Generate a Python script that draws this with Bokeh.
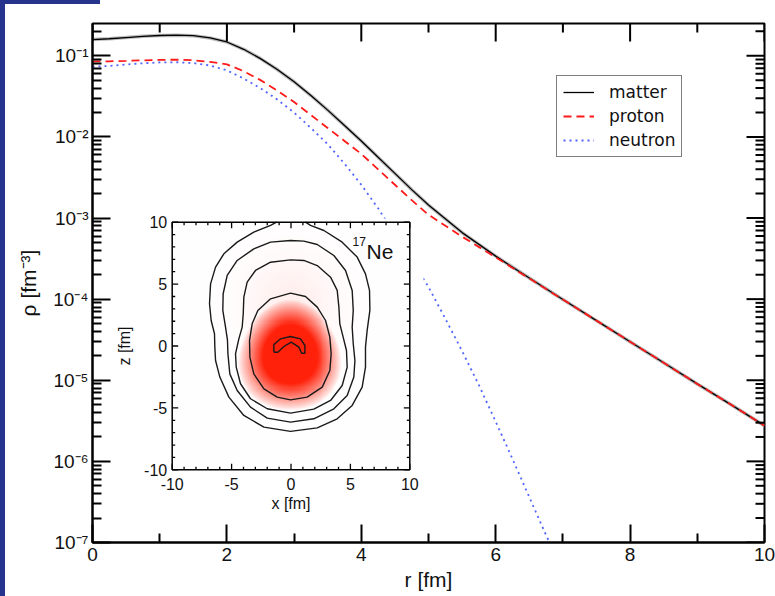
import numpy as np
from bokeh.plotting import figure
from bokeh.models import Legend, LegendItem, FixedTicker, Range1d, LinearScale
from bokeh.core.properties import value
from bokeh.embed import file_html
from bokeh.resources import INLINE

# ---------------- data ----------------
r_fine = [0.0, 0.25, 0.5, 0.75, 1.0, 1.25, 1.5, 1.75, 2.0, 2.25, 2.5, 2.75,
          3.0, 3.25, 3.5, 3.75, 4.0, 4.25, 4.5, 4.75, 5.0,
          5.5, 6.0, 6.5, 7.0, 7.5, 8.0, 8.5, 9.0, 9.5, 10.0]
log_rho_matter = [-0.800, -0.790, -0.775, -0.760, -0.750, -0.746, -0.752,
                  -0.780, -0.830, -0.920, -1.035, -1.170, -1.320, -1.490,
                  -1.670, -1.860, -2.050, -2.250, -2.450, -2.650, -2.840,
                  -3.180, -3.470, -3.740, -4.005, -4.265, -4.525, -4.785,
                  -5.045, -5.300, -5.560]
log_rho_proton = [-1.070, -1.068, -1.063, -1.056, -1.050, -1.048, -1.055,
                  -1.075, -1.105, -1.190, -1.300, -1.430, -1.570, -1.730,
                  -1.890, -2.050, -2.210, -2.400, -2.590, -2.780, -2.960,
                  -3.230, -3.485, -3.745, -4.005, -4.265, -4.525, -4.785,
                  -5.045, -5.300, -5.560]
r_neutron = [0.0, 0.25, 0.5, 0.75, 1.0, 1.25, 1.5, 1.75, 2.0, 2.25, 2.5, 2.75,
             3.0, 3.25, 3.5, 3.75, 4.0, 4.25, 4.5, 4.75, 5.0, 5.25, 5.5,
             5.75, 6.0, 6.25, 6.5, 6.75, 6.8]
log_rho_neutron = [-1.135, -1.125, -1.108, -1.092, -1.082, -1.080, -1.090,
                   -1.120, -1.180, -1.280, -1.400, -1.540, -1.700, -1.890,
                   -2.090, -2.330, -2.590, -2.880, -3.200, -3.520, -3.850,
                   -4.240, -4.640, -5.060, -5.510, -5.970, -6.440, -6.910,
                   -7.000]

series_names = ["matter", "proton", "neutron"]

y_major = [1e-7, 1e-6, 1e-5, 1e-4, 1e-3, 1e-2, 1e-1]
y_labels = ["10⁻⁷", "10⁻⁶", "10⁻⁵", "10⁻⁴", "10⁻³", "10⁻²", "10⁻¹"]
y_minor_mult = [2, 3, 4, 5, 6, 7, 8, 9]
x_major = [0, 2, 4, 6, 8, 10]
x_minor = [1, 3, 5, 7, 9]

# inset (17Ne density in the x-z plane, fm)
inset_major = [-10, -5, 0, 5, 10]
inset_labels = ["-10", "-5", "0", "5", "10"]
inset_minor = [-9, -8, -7, -6, -4, -3, -2, -1, 1, 2, 3, 4, 6, 7, 8, 9]

contour_x = [
    [-1.44, -1.44, -0.88, -0.04, 0.80, 1.17, 1.17, 0.90, 0.66, 0.02, -0.60,
     -1.11],
    [-0.04, -1.72, -2.79, -3.27, -3.49, -3.46, -3.13, -2.28, -1.16, -0.04,
     1.36, 2.63, 3.27, 3.38, 3.27, 2.91, 2.21, 1.22],
    [-0.04, -1.72, -2.99, -3.69, -3.97, -4.02, -4.11, -4.39, -4.67, -4.61,
     -4.25, -3.41, -2.00, -0.04, 1.92, 3.33, 4.31, 4.73, 4.67, 4.39, 4.11,
     4.03, 3.89, 3.33, 2.21, 1.08],
    [-0.04, -1.72, -3.13, -4.53, -5.37, -5.71, -5.74, -5.51, -5.35, -5.31,
     -5.15, -4.53, -3.41, -2.00, -0.04, 1.92, 3.61, 4.73, 5.29, 5.38, 5.24,
     5.15, 5.24, 5.15, 4.59, 3.61, 2.21, 1.08],
    [-1.10, -1.22, -1.72, -3.13, -4.53, -5.65, -6.35, -6.77, -6.86, -6.72,
     -6.44, -6.41, -6.35, -5.99, -5.23, -3.97, -2.28, -0.04, 2.21, 3.89,
     5.15, 5.99, 6.27, 6.27, 6.41, 6.64, 6.61, 6.27, 5.57, 4.31, 2.77, 1.64,
     1.22, 1.10],
]
contour_z = [
    [-0.50, 0.12, 0.58, 0.77, 0.58, 0.04, -0.58, -0.58, -0.09, 0.31, -0.04,
     -0.50],
    [4.27, 3.81, 2.87, 1.79, 0.45, -0.90, -2.25, -3.46, -4.13, -4.35,
     -4.13, -3.32, -1.98, -0.63, 0.72, 2.06, 3.14, 4.00],
    [6.96, 6.77, 6.10, 5.16, 3.95, 2.60, 1.52, 0.58, -0.63, -1.71,
     -3.05, -4.26, -5.07, -5.42, -5.10, -4.40, -3.19, -1.71, -0.36, 0.72,
     1.79, 3.14, 4.49, 5.56, 6.50, 6.91],
    [8.52, 8.39, 7.85, 6.91, 5.70, 4.22, 2.87, 1.52, 0.50, -0.63,
     -2.25, -3.59, -4.94, -5.83, -6.15, -5.88, -5.07, -3.99, -2.51, -1.17,
     0.18, 1.52, 2.87, 4.49, 6.10, 7.31, 8.20, 8.47],
    [10.6, 10.0, 9.74, 9.20, 8.39, 7.45, 6.37, 5.02, 3.41, 2.06,
     0.99, -0.09, -1.17, -2.51, -4.13, -5.61, -6.55, -6.90, -6.61, -5.88,
     -4.80, -3.32, -1.71, -0.09, 1.26, 2.87, 4.49, 5.83, 7.18, 8.39, 9.33,
     9.74, 10.0, 10.6],
]
blob_center = (-0.1, -0.75)
blob_sigma_x = 2.2
blob_sigma_z = 2.3
blob_sigma_slope = 0.08
halo_center = (0.0, 3.5)
halo_sigma = 2.6
halo_level = 0.07
nucleus_mass, nucleus_symbol = "17", "Ne"

# ---------------- layout constants (page pixels) ----------------
W, H = 775, 596
FL, FR, FT, FB = 92, 764, 23, 542          # main frame
IX0, IX1, IY0, IY1 = 171.7, 409.3, 221.7, 469.3   # inset frame
PANEL = (111, 423, 218, 519)               # white inset panel l, r, t, b
FONT = "Liberation Sans"
BLUE = "#27348e"
TXT = "#111111"

p = figure(width=W, height=H, x_range=(0, 10), y_range=(1e-7, 0.25),
           y_axis_type="log", output_backend="svg", toolbar_location=None,
           min_border_left=FL, min_border_right=W - FR, min_border_top=FT,
           min_border_bottom=H - FB)
p.grid.visible = False
p.outline_line_color = "black"
p.outline_line_width = 2
p.background_fill_color = "white"
p.border_fill_color = None
p.styles = {
    "background-color": "white",
    "background-image": (f"linear-gradient(to right, {BLUE} 5px, transparent 5px), "
                         f"linear-gradient(to bottom, {BLUE} 4px, transparent 4px)"),
    "background-size": "100% 100%, 100px 100%",
    "background-repeat": "no-repeat",
}

for ax in (p.xaxis[0], p.yaxis[0]):
    ax.axis_line_width = 2
    ax.major_tick_line_width = 2
    ax.minor_tick_line_width = 2
    ax.major_tick_in = 18
    ax.major_tick_out = 0
    ax.minor_tick_in = 9
    ax.minor_tick_out = 0
    ax.major_label_text_font = FONT
    ax.major_label_text_font_size = "19px"
    ax.major_label_text_color = TXT
    ax.axis_label_text_font = FONT
    ax.axis_label_text_font_size = "21px"
    ax.axis_label_text_font_style = "normal"
    ax.axis_label_text_color = TXT

xt = FixedTicker(ticks=x_major, minor_ticks=x_minor)
yminor = [m * t for t in y_major[:-1] for m in y_minor_mult] + [2e-1]
yt = FixedTicker(ticks=y_major, minor_ticks=yminor)
p.xaxis.ticker = xt
p.yaxis.ticker = yt
p.yaxis.major_label_overrides = dict(zip(y_major, y_labels))
p.xaxis.axis_label = "r [fm]"
p.yaxis.axis_label = "ρ [fm⁻³]"
p.xaxis.major_label_standoff = 5
p.yaxis.major_label_standoff = 4
p.xaxis.axis_label_standoff = 4
p.yaxis.axis_label_standoff = 10

# main curves
rho_m = [10 ** v for v in log_rho_matter]
rho_p = [10 ** v for v in log_rho_proton]
rho_n = [10 ** v for v in log_rho_neutron]
p.line(r_fine, rho_m, line_color="#a0a0a0", line_width=3.5, line_alpha=0.7)
rm = p.line(r_fine, rho_m, line_color="black", line_width=1.3)
rp = p.line(r_fine, rho_p, line_color="#ff1a1a", line_width=1.8,
            line_dash="8 5")
rn = p.line(r_neutron, rho_n, line_color="#3346ff", line_width=1.8,
            line_dash="2 4", line_alpha=0.85)

# top and right inward ticks (mirror of the bottom / left axes)
dec_per_px = np.log10(0.25 / 1e-7) / (FB - FT)
x_per_px = 10.0 / (FR - FL)
top_x = x_major + x_minor
top_len = [18] * len(x_major) + [9] * len(x_minor)
p.segment(x0=top_x, y0=[0.25] * len(top_x), x1=top_x,
          y1=[0.25 / 10 ** (L * dec_per_px) for L in top_len],
          line_color="black", line_width=2)
right_y = y_major + yminor
right_len = [18] * len(y_major) + [9] * len(yminor)
p.segment(x0=[10] * len(right_y), y0=right_y,
          x1=[10 - L * x_per_px for L in right_len], y1=right_y,
          line_color="black", line_width=2)

# ---------------- inset drawn on its own linear ranges ----------------
ipx = (IX1 - IX0) / 20.0
ipz = (IY1 - IY0) / 20.0
ix_start = -10 - (IX0 - FL) / ipx
iz_start = -10 - (FB - IY1) / ipz
p.extra_x_ranges = {"ix": Range1d(ix_start, ix_start + (FR - FL) / ipx)}
p.extra_y_ranges = {"iz": Range1d(iz_start, iz_start + (FB - FT) / ipz)}
p.extra_x_scales = {"ix": LinearScale()}
p.extra_y_scales = {"iz": LinearScale()}
IN = dict(x_range_name="ix", y_range_name="iz")

pl, pr, pt, pb = PANEL
p.quad(left=[-10 - (IX0 - pl) / ipx], right=[10 + (pr - IX1) / ipx],
       top=[10 + (IY0 - pt) / ipz], bottom=[-10 - (pb - IY1) / ipz],
       fill_color="white", line_alpha=0, **IN)

# density image
n = 240
g = np.linspace(-10, 10, n)
X, Z = np.meshgrid(g, g)
sx = blob_sigma_x - blob_sigma_slope * (Z - blob_center[1])
t = np.exp(-0.5 * (((X - blob_center[0]) / sx) ** 2
                   + ((Z - blob_center[1]) / blob_sigma_z) ** 2))
halo = halo_level * np.exp(-0.5 * (((X - halo_center[0]) / halo_sigma) ** 2
                                   + ((Z - halo_center[1]) / halo_sigma) ** 2))
I = np.clip(np.clip((t - 0.15) / 0.45, 0, 1) ** 0.7 + halo, 0, 1)
img = np.empty((n, n), dtype=np.uint32)
v4 = img.view(dtype=np.uint8).reshape((n, n, 4))
v4[:, :, 0] = 255
v4[:, :, 1] = (255 - 222 * I).astype(np.uint8)
v4[:, :, 2] = (255 - 245 * I).astype(np.uint8)
v4[:, :, 3] = 255
p.image_rgba(image=[img], x=-10, y=-10, dw=20, dh=20, **IN)

# contour lines (outermost one leaves through the top edge)
cx = [c + [c[0]] for c in contour_x[:-1]] + [contour_x[-1][1:-1]]
cz = [c + [c[0]] for c in contour_z[:-1]] + [contour_z[-1][1:-1]]
p.multi_line(cx, cz, line_color="#1a1a1a", line_width=1.4, **IN)

# inset frame and ticks
p.quad(left=[-10], right=[10], bottom=[-10], top=[10], fill_alpha=0,
       line_color="black", line_width=1.5, **IN)
tk = inset_major + inset_minor
tl = [6] * len(inset_major) + [3] * len(inset_minor)
nt = len(tk)
p.segment(x0=tk, y0=[-10] * nt, x1=tk, y1=[-10 + L / ipz for L in tl],
          line_color="black", line_width=1.3, **IN)
p.segment(x0=tk, y0=[10] * nt, x1=tk, y1=[10 - L / ipz for L in tl],
          line_color="black", line_width=1.3, **IN)
p.segment(x0=[-10] * nt, y0=tk, x1=[-10 + L / ipx for L in tl], y1=tk,
          line_color="black", line_width=1.3, **IN)
p.segment(x0=[10] * nt, y0=tk, x1=[10 - L / ipx for L in tl], y1=tk,
          line_color="black", line_width=1.3, **IN)

m5 = len(inset_major)
p.text(x=inset_major, y=[-10 - 8 / ipz] * m5, text=inset_labels,
       text_font=value(FONT), text_font_size="16px", text_color=TXT,
       text_align="center", text_baseline="top", **IN)
p.text(x=[-10 - 5 / ipx] * m5, y=inset_major, text=inset_labels,
       text_font=value(FONT), text_font_size="16px", text_color=TXT,
       text_align="right", text_baseline="middle", **IN)
p.text(x=[0], y=[-10 - (494 - IY1) / ipz], text=["x [fm]"],
       text_font=value(FONT), text_font_size="16px", text_color=TXT,
       text_align="center", text_baseline="top", **IN)
p.text(x=[-10 - (IX0 - 123.5) / ipx], y=[0], text=["z [fm]"], angle=np.pi / 2,
       text_font=value(FONT), text_font_size="16px", text_color=TXT,
       text_align="center", text_baseline="middle", **IN)
p.text(x=[-10 + (352 - IX0) / ipx], y=[10 - (240.5 - IY0) / ipz],
       text=[nucleus_mass], text_font=value(FONT), text_font_size="12px",
       text_color=TXT, text_align="left", text_baseline="alphabetic", **IN)
p.text(x=[-10 + (366 - IX0) / ipx], y=[10 - (251 - IY0) / ipz],
       text=[nucleus_symbol], text_font=value(FONT), text_font_size="21px",
       text_color=TXT, text_align="left", text_baseline="alphabetic", **IN)

# ---------------- legend ----------------
legend = Legend(items=[LegendItem(label=series_names[0], renderers=[rm]),
                       LegendItem(label=series_names[1], renderers=[rp]),
                       LegendItem(label=series_names[2], renderers=[rn])],
                location=(556 - FL, FB - 157))
legend.label_text_font = "DejaVu Sans"
legend.label_text_font_size = "17px"
legend.label_text_color = TXT
legend.glyph_width = 31
legend.glyph_height = 20
legend.label_height = 20
legend.label_standoff = 15
legend.spacing = 4
legend.padding = 6
legend.margin = 0
legend.border_line_color = "black"
legend.border_line_width = 1.5
p.add_layout(legend)

open("out.html", "w").write(file_html(p, INLINE))
